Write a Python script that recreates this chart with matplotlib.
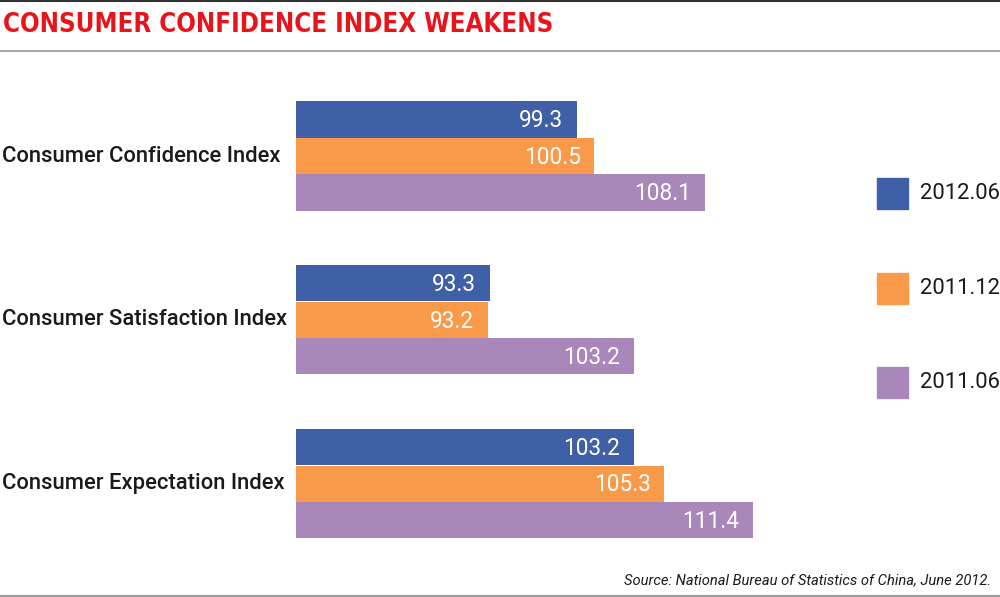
import matplotlib.pyplot as plt
from matplotlib.lines import Line2D

# data
categories = ["Consumer Confidence Index", "Consumer Satisfaction Index", "Consumer Expectation Index"]
periods = ["2012.06", "2011.12", "2011.06"]
values_2012_06 = [99.3, 93.3, 103.2]
values_2011_12 = [100.5, 93.2, 105.3]
values_2011_06 = [108.1, 103.2, 111.4]

colors = ["#3F5FA6", "#F89A4A", "#AA87BA"]
series = [values_2012_06, values_2011_12, values_2011_06]

fig = plt.figure(figsize=(10, 5.97), dpi=100)

# bar area: left edge at x=80, 14.56 px per index point
ax = fig.add_axes([0.296, 1 - 555 / 597, 0.56, 472 / 597])
px_per_unit = 14.56
ax.set_xlim(80, 80 + 560 / px_per_unit)
ax.set_ylim(10.93, -2.0)
ax.axis("off")

group_gap = 4.49
for b, (vals, col) in enumerate(zip(series, colors)):
    ys = [g * group_gap + (b - 1) for g in range(len(categories))]
    ax.barh(ys, [v - 80 for v in vals], left=80, height=0.99, color=col)
    for y, v in zip(ys, vals):
        ax.text(v - 0.95, y + 0.03, f"{v:.1f}", color="white", fontsize=16.3,
                ha="right", va="center", family=["Roboto", "Liberation Sans"])

for g, cat in enumerate(categories):
    y = g * group_gap
    fy = 1 - (156 + y * 36.5) / 597
    fig.text(0.002, fy, cat, fontsize=15.8, ha="left", va="center", fontweight="medium",
             family=["Roboto", "Liberation Sans"], color="#1a1a1a")

# legend
for i, (p, col) in enumerate(zip(periods, colors)):
    cy = 1 - (193.5 + i * 94.5) / 597
    fig.patches.append(plt.Rectangle((0.877, cy - 15.5 / 597), 0.031, 31 / 597,
                                     transform=fig.transFigure, color=col))
    fig.text(0.920, cy, p, fontsize=15.8, ha="left", va="center",
             family=["Roboto", "Liberation Sans"], color="#1a1a1a")

# title and rules
fig.text(0.003, 1 - 25 / 597, "CONSUMER CONFIDENCE INDEX WEAKENS", color="#E8141C",
         fontsize=18.5, fontweight="bold", fontstretch="condensed", ha="left", va="center",
         family=["DejaVu Sans"])
fig.lines.append(Line2D([0, 1], [1 - 0.5 / 597, 1 - 0.5 / 597], transform=fig.transFigure,
                        color="#333333", lw=1.5))
fig.lines.append(Line2D([0, 1], [1 - 50.5 / 597, 1 - 50.5 / 597], transform=fig.transFigure,
                        color="#aaaaaa", lw=1.5))
fig.lines.append(Line2D([0, 1], [1 - 596 / 597, 1 - 596 / 597], transform=fig.transFigure,
                        color="#999999", lw=1.5))

fig.text(0.991, 1 - 580 / 597, "Source: National Bureau of Statistics of China, June 2012.",
         fontsize=10.65, style="italic", ha="right", va="center",
         family=["Roboto", "Liberation Sans"], color="#1a1a1a")

fig.savefig("out.png", dpi=100)
